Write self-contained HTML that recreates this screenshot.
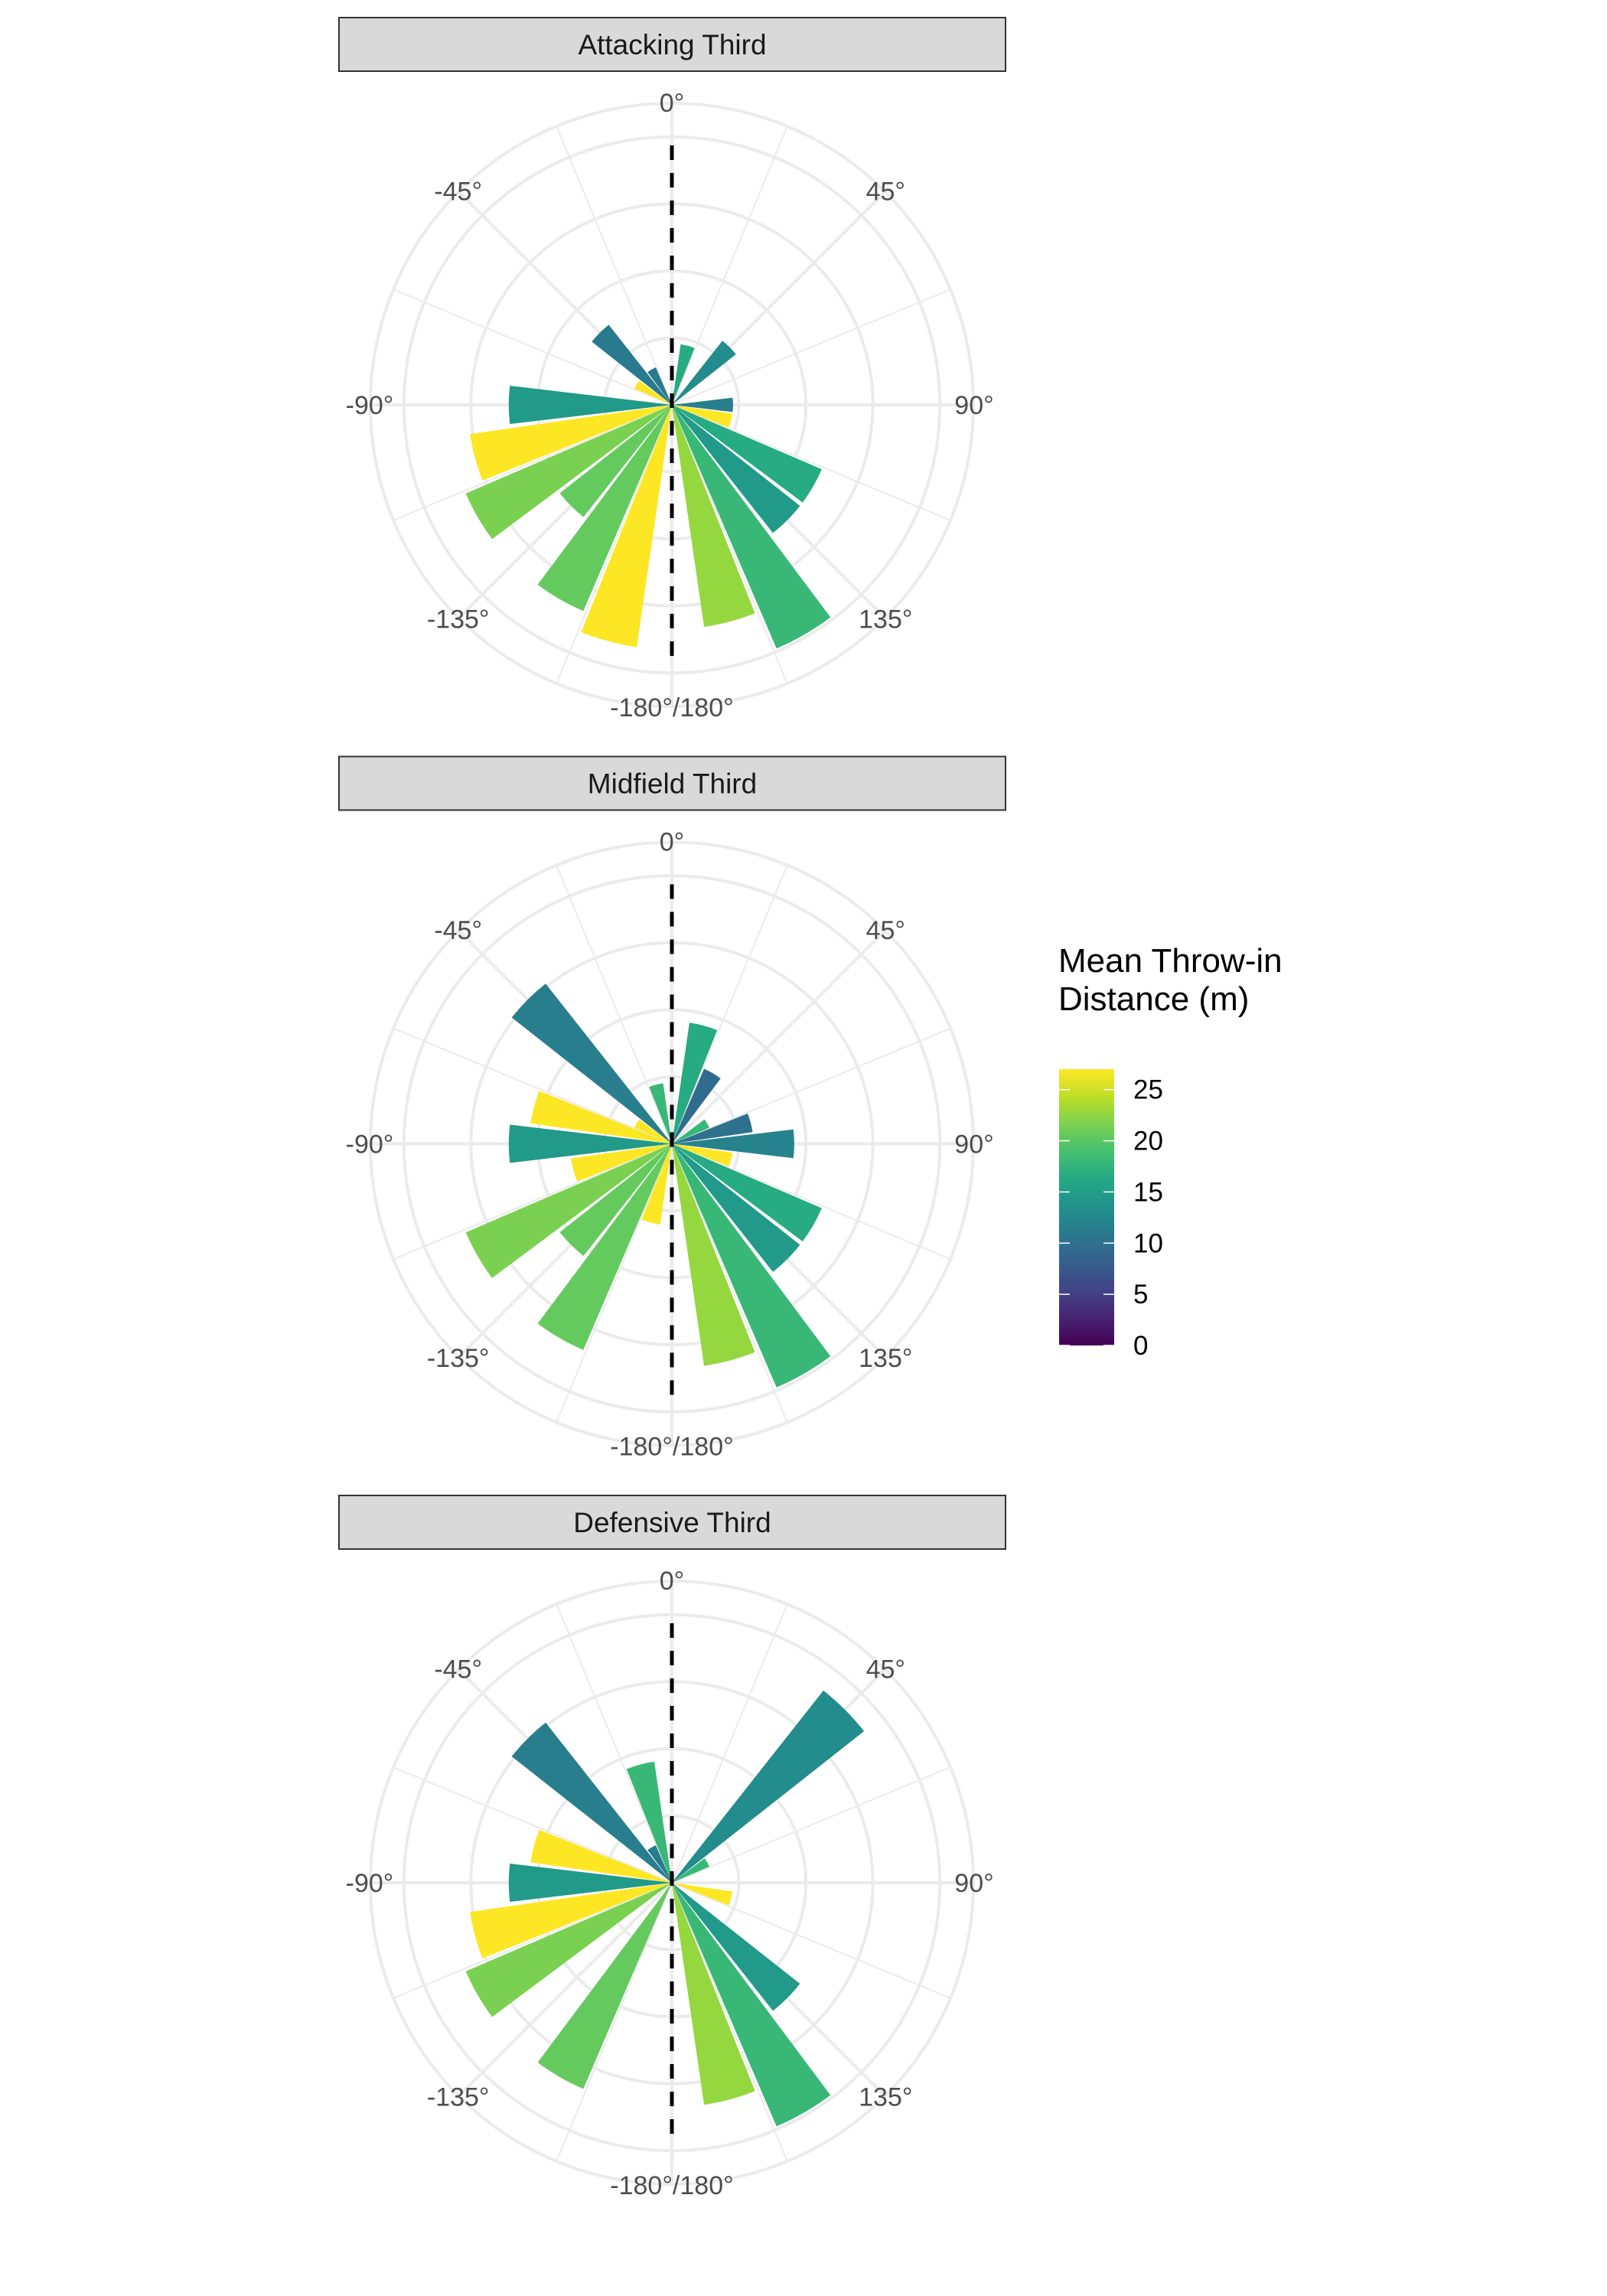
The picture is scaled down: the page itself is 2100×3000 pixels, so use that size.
<!DOCTYPE html>
<html><head><meta charset="utf-8"><style>
html,body{margin:0;padding:0;background:#fff;}
svg{display:block;}
text{font-family:"Liberation Sans",Arial,sans-serif;}
</style></head>
<body>
<svg id="chart" width="2100" height="3000" viewBox="0 0 2100 3000" xmlns="http://www.w3.org/2000/svg">
<rect width="2100" height="3000" fill="#fff"/>
<g id="panels"></g>
<g id="legend">
  <text x="1383" y="1270" font-size="44" fill="#000">Mean Throw-in</text>
  <text x="1383" y="1320" font-size="44" fill="#000">Distance (m)</text>
  <defs>
    <linearGradient id="vir" x1="0" y1="1" x2="0" y2="0"></linearGradient>
  </defs>
  <rect id="cbar" x="1384" y="1397" width="72" height="361" fill="url(#vir)"/>
  <g id="cticks"></g>
</g>
</svg>
<script>
// ---- data ----
const panelTitles = ["Attacking Third","Midfield Third","Defensive Third"];
const p1Angles = [15,45,90,105,120,135,150,165,-165,-150,-135,-120,-105,-90,-60,-45,-30];
const p1Counts = [3,4,3,3,8,8,13,11,12,11,7,11,10,8,2,5,2];
const p1Dist   = [16.5,13,11.5,27,16.5,14.5,18,22.7,27,20.5,20.5,21.6,27,14.5,27,11,11];
const p2Angles = [15,30,60,75,90,105,120,135,150,165,-165,-150,-135,-120,-105,-90,-75,-60,-45,-15];
const p2Counts = [6,4,2,4,6,3,8,8,13,11,4,11,7,11,5,8,7,2,10,3];
const p2Dist   = [16.5,9.5,18,10,12,27,16.5,14.5,18,22.7,27,20.5,20.5,21.6,27,14.5,27,27,11.5,18];
const p3Angles = [45,60,105,135,150,165,-150,-120,-105,-90,-75,-45,-30,-15];
const p3Counts = [12,2,3,8,13,11,11,11,10,8,7,10,2,6];
const p3Dist   = [13,18,27,14.5,18,22.7,20.5,21.6,27,14.5,27,11.5,11,18];
const angleTicks = [0,45,90,135,180,-135,-90,-45];
const angleTickLabels = ["0°","45°","90°","135°","-180°/180°","-135°","-90°","-45°"];
const legendTicks = [0,5,10,15,20,25];
const legendMax = 27;

const NS="http://www.w3.org/2000/svg";
const vir=["#440154","#482475","#414487","#355f8d","#2a788e","#21918c","#22a884","#44bf70","#7ad151","#bddf26","#fde725"];
function hex(c){return [1,3,5].map(i=>parseInt(c.substr(i,2),16));}
function viridis(t){t=Math.max(0,Math.min(1,t));const f=t*10,i=Math.min(9,Math.floor(f)),u=f-i;
 const a=hex(vir[i]),b=hex(vir[i+1]);return "rgb("+a.map((v,k)=>Math.round(v+(b[k]-v)*u)).join(",")+")";}
function mk(tag,attrs,parent){const e=document.createElementNS(NS,tag);for(const k in attrs)e.setAttribute(k,attrs[k]);parent.appendChild(e);return e;}

const CX=878, OUTER=394, UNIT=26.65, BW=13.5;
const centersY=[529,1494.5,2460];
function pt(cx,cy,deg,r){const a=deg*Math.PI/180;return [cx+r*Math.sin(a),cy-r*Math.cos(a)];}
function rScale(c){return c*UNIT;}

const panels=document.getElementById('panels');
const data=[[p1Angles,p1Counts,p1Dist],[p2Angles,p2Counts,p2Dist],[p3Angles,p3Counts,p3Dist]];
data.forEach((d,pi)=>{
  const cy=centersY[pi];
  const g=mk('g',{},panels);
  
  
  const sy=cy-506;
  const strip=mk('rect',{x:443,y:sy,width:871,height:70,fill:'#d9d9d9',stroke:'#333','stroke-width':2},g);
  
  
  const st=mk('text',{x:878.5,y:sy+48,'font-size':37,'text-anchor':'middle',fill:'#1a1a1a'},g);
  st.textContent=panelTitles[pi];
  
  
  for(let k=0;k<16;k++){const ang=k*22.5;const p=pt(CX,cy,ang,OUTER);
    const ln=mk('line',{x1:CX,y1:cy,x2:p[0],y2:p[1],stroke:'#ebebeb','stroke-width':(k%2==0)?4:2},g);
    
    }
  for(let k=1;k<=4;k++){const c=mk('circle',{cx:CX,cy:cy,r:OUTER*k/4.5,fill:'none',stroke:'#ebebeb','stroke-width':4},g);
    
    }
  const oc=mk('circle',{cx:CX,cy:cy,r:OUTER,fill:'none',stroke:'#ebebeb','stroke-width':4},g);
  
  
  const [angs,cnts,dists]=d;
  angs.forEach((a,i)=>{const r=rScale(cnts[i]);const p1=pt(CX,cy,a-BW/2,r),p2=pt(CX,cy,a+BW/2,r);
    const path=mk('path',{d:`M${CX},${cy} L${p1[0]},${p1[1]} A${r},${r} 0 0 1 ${p2[0]},${p2[1]} Z`,fill:viridis(dists[i]/legendMax)},g);
    
    });
  const dl=mk('line',{x1:CX,y1:cy-339,x2:CX,y2:cy+339,stroke:'#000','stroke-width':5,'stroke-dasharray':'19 17'},g);
  
  
  angleTicks.forEach((a,i)=>{const p=pt(CX,cy,a,395);
    const t=mk('text',{x:p[0],y:p[1]+12,'font-size':34,'text-anchor':'middle',fill:'#4d4d4d'},g);
    t.textContent=angleTickLabels[i];
    
    });
});
const grad=document.getElementById('vir');
vir.forEach((c,i)=>{mk('stop',{offset:(i/10),'stop-color':c},grad);});
const ct=document.getElementById('cticks');
const CB_BOTTOM=1758, CB_H=361;
legendTicks.forEach(v=>{const y=CB_BOTTOM-v*(CB_H/legendMax);
  const l1=mk('line',{x1:1384,y1:y,x2:1398,y2:y,stroke:'#fff','stroke-width':1.5},ct);
  
  
  const l2=mk('line',{x1:1442,y1:y,x2:1456,y2:y,stroke:'#fff','stroke-width':1.5},ct);
  
  
  const t=mk('text',{x:1481,y:y+12,'font-size':35,fill:'#000'},ct);
  t.textContent=v;
  
  });
</script>
</body></html>
